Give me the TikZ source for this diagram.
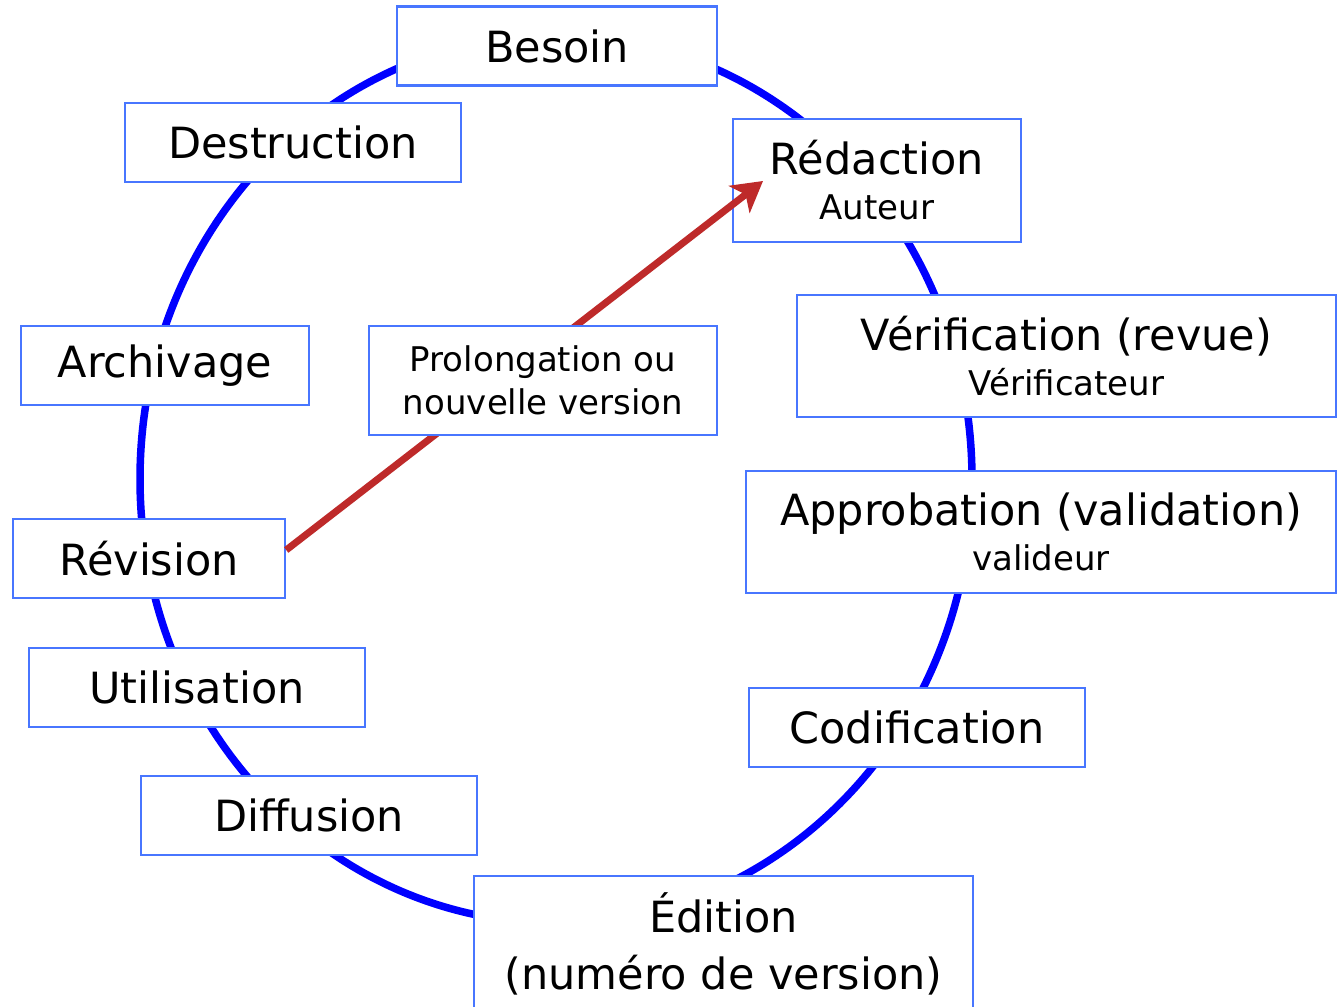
\documentclass[tikz,border=0pt]{standalone}
\usepackage{fontspec}
\setmainfont{DejaVu Sans}
\usetikzlibrary{arrows.meta}
\definecolor{boxblue}{RGB}{72,118,255}
\definecolor{loopred}{RGB}{190,42,42}

\begin{document}
\begin{tikzpicture}
			[x=1pt, y=-1pt,
			phase/.style={draw=boxblue, line width=2.4pt, fill=white, inner sep=0pt,
				minimum height=79pt, align=center, font=\fontsize{43}{54}\selectfont},
			loopback/.style={draw=loopred, line width=7pt,
				-{Stealth[length=30pt, width=34pt, inset=8pt]}}]
			\fill[white] (0,0) rectangle (1342,1007);
			\useasboundingbox (0,0) rectangle (1342,1007);
			% the cycle
			\draw[blue, line width=7.5pt] (556,479) ellipse [x radius=416pt, y radius=444pt];
			\node[phase, minimum width=320pt] (ph1) at (557,46) {Besoin};
			\node[phase, minimum width=288pt, minimum height=123pt] (ph2) at (877,180.5)
			{Rédaction\\[-9pt]{\fontsize{34}{44}\selectfont Auteur}};
			\node[phase, minimum width=539pt, minimum height=122pt] (ph3) at (1066.5,356)
			{Vérification (revue)\\[-9pt]{\fontsize{34}{44}\selectfont Vérificateur}};
			\node[phase, minimum width=590pt, minimum height=122pt] (ph4) at (1041,532)
			{Approbation (validation)\\[-9pt]{\fontsize{34}{44}\selectfont valideur}};
			\node[phase, minimum width=336pt] (ph5) at (917,727.5) {Codification};
			\node[phase, minimum width=499pt, minimum height=136pt, anchor=north] (ph6) at (723.5,875)
			{Édition\\[3pt](numéro de version)};
			\node[phase, minimum width=336pt] (ph7) at (309,815.5) {Diffusion};
			\node[phase, minimum width=336pt] (ph8) at (197,687.5) {Utilisation};
			\node[phase, minimum width=272pt] (ph9) at (149,558.5) {Révision};
			\node[phase, minimum width=288pt] (ph10) at (165,365.5) {Archivage};
			\node[phase, minimum width=336pt] (ph11) at (293,142.5) {Destruction};
			% back to writing
			\coordinate (tip) at (763,181);
			\draw[loopback] ([yshift=8.5pt]ph9.east) -- (tip);
			\node[phase, minimum width=348pt, minimum height=109pt,
				font=\fontsize{34}{43}\selectfont] (ext) at (543,380.5)
			{Prolongation ou\\nouvelle version};
		\end{tikzpicture}
\end{document}
